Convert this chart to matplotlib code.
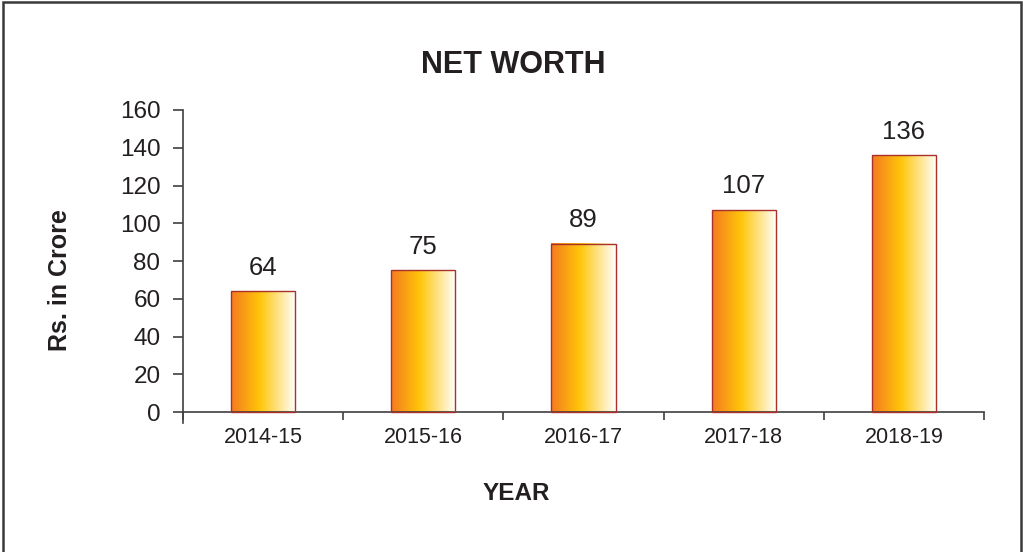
import numpy as np
import matplotlib
matplotlib.use("Agg")
import matplotlib.pyplot as plt
from matplotlib.colors import LinearSegmentedColormap
from matplotlib.patches import Rectangle

years = ["2014-15", "2015-16", "2016-17", "2017-18", "2018-19"]
net_worth = [64, 75, 89, 107, 136]
y_ticks = [0, 20, 40, 60, 80, 100, 120, 140, 160]

plt.rcParams['font.family'] = ['Liberation Sans', 'DejaVu Sans']
txt = '#231F20'
axc = '#404040'

fig = plt.figure(figsize=(10.23, 5.52), dpi=100)
ax = fig.add_axes([183/1023, 1-423/552, (984-183)/1023, (423-110)/552])

x = np.arange(len(years))
bars = ax.bar(x, net_worth, width=0.4, color='none', edgecolor='#A8322A', linewidth=1.0, zorder=3)

cmap = LinearSegmentedColormap.from_list('g', [(0.0, '#F47A20'), (0.45, '#FFC60A'), (1.0, '#FFFFFF')])
grad = np.linspace(0, 1, 256).reshape(1, -1)
for b in bars:
    x0 = b.get_x(); w = b.get_width(); h = b.get_height()
    ax.imshow(grad, cmap=cmap, extent=[x0, x0 + w, 0, h], aspect='auto', zorder=2, interpolation='bilinear')

for xi, v in zip(x, net_worth):
    ax.annotate(str(v), (xi, v), xytext=(0, 17), textcoords='offset points',
                ha='center', va='center', fontsize=18.5, color=txt)

ax.set_xlim(-0.5, len(years) - 0.5)
ax.set_ylim(-5.8, 160)
ax.spines['top'].set_visible(False)
ax.spines['right'].set_visible(False)
ax.spines['bottom'].set_position(('data', 0))
for s in ('left', 'bottom'):
    ax.spines[s].set_color(axc)
    ax.spines[s].set_linewidth(1.2)

ax.set_yticks(y_ticks)
ax.set_yticklabels([str(t) for t in y_ticks], fontsize=17.5, color=txt)
ax.tick_params(axis='y', direction='out', length=7.2, width=1.2, color=axc, pad=9)

ax.set_xticks(x)
ax.set_xticklabels(years, fontsize=15.5, color=txt)
ax.set_xticks(np.arange(-0.5, len(years)), minor=True)
ax.tick_params(axis='x', which='major', length=0, pad=11)
ax.tick_params(axis='x', which='minor', direction='out', length=5.8, width=1.2, color=axc)

fig.text(513/1023, 1-65/552, "NET WORTH", ha='center', va='center', fontsize=22, fontweight='bold', color=txt)
fig.text(516/1023, 1-493/552, "YEAR", ha='center', va='center', fontsize=17.5, fontweight='bold', color=txt)
fig.text(60/1023, 1-280/552, "Rs. in Crore", ha='center', va='center', rotation=90, fontsize=18, fontweight='bold', color=txt)

fig.patches.append(Rectangle((2.5/1023, -0.05), (1021-2.5)/1023, 1.05 - 1.5/552,
                             transform=fig.transFigure, fill=False, edgecolor='#3a3a3a', linewidth=1.8))

fig.savefig('out.png', dpi=100)
